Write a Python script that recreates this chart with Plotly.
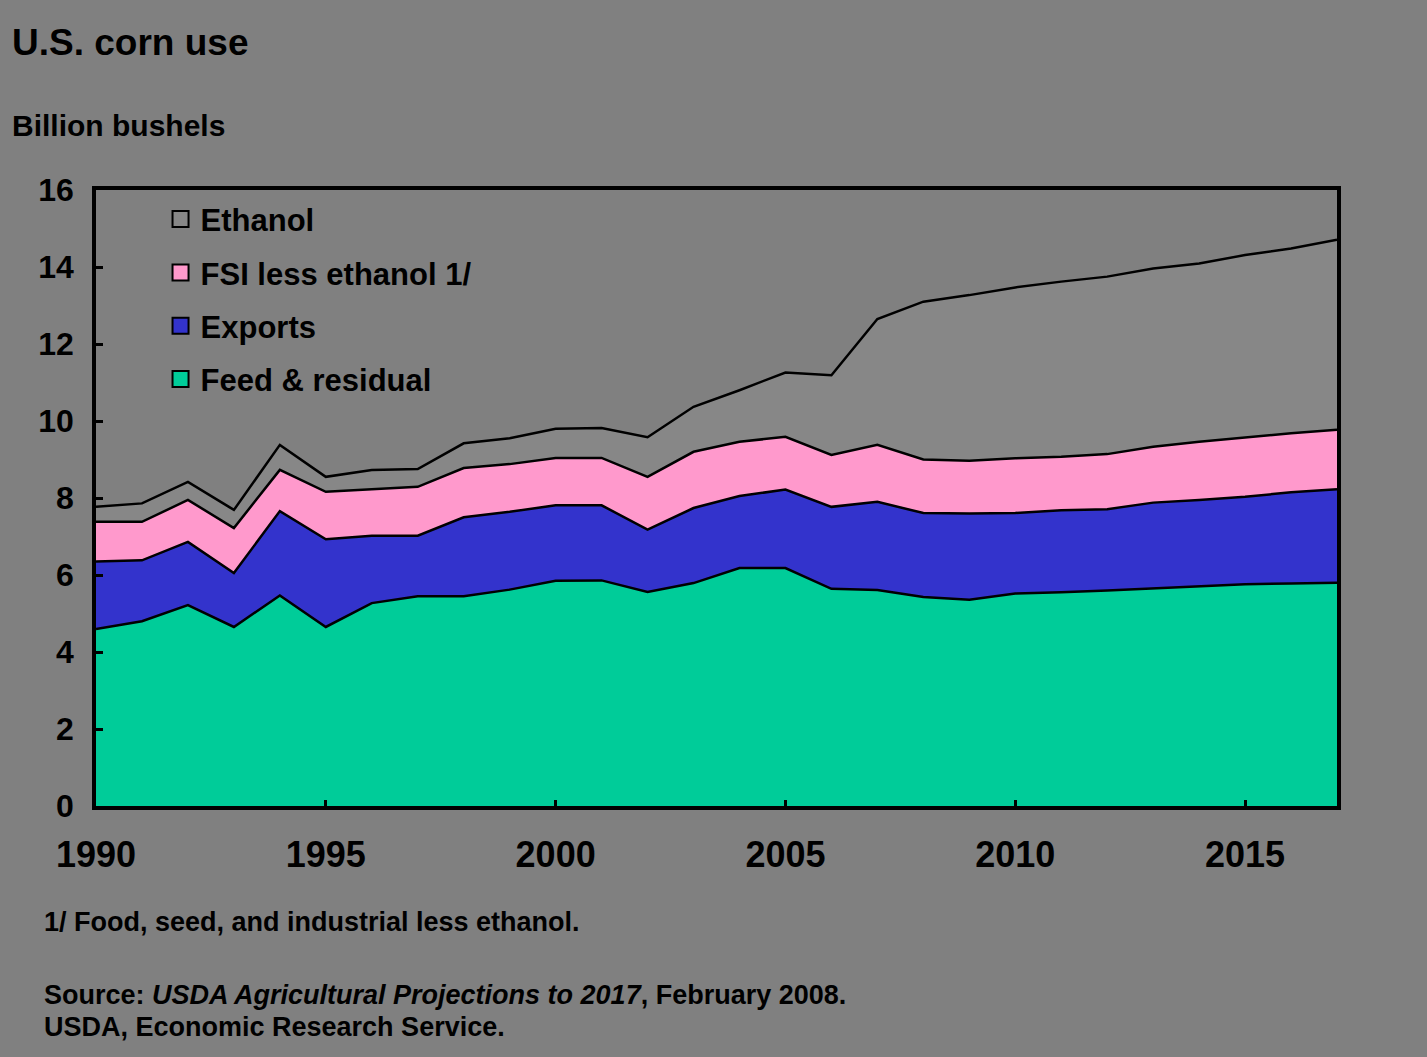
import plotly.graph_objects as go

years = list(range(1990, 2018))

feed_residual = [4.60, 4.80, 5.22, 4.65, 5.47, 4.65, 5.27, 5.45, 5.45, 5.62,
                 5.85, 5.86, 5.56, 5.79, 6.18, 6.18, 5.64, 5.61, 5.43, 5.36,
                 5.52, 5.55, 5.60, 5.65, 5.70, 5.76, 5.78, 5.80]
exports = [1.75, 1.58, 1.64, 1.40, 2.19, 2.28, 1.75, 1.57, 2.05, 2.02,
           1.96, 1.95, 1.62, 1.95, 1.87, 2.04, 2.13, 2.29, 2.18, 2.24,
           2.09, 2.13, 2.11, 2.23, 2.25, 2.27, 2.37, 2.43]
fsi_less_ethanol = [1.03, 1.00, 1.09, 1.17, 1.07, 1.23, 1.21, 1.27, 1.28, 1.24,
                    1.23, 1.23, 1.37, 1.46, 1.41, 1.37, 1.35, 1.48, 1.39, 1.37,
                    1.42, 1.39, 1.43, 1.45, 1.51, 1.54, 1.53, 1.54]
ethanol = [0.39, 0.48, 0.47, 0.47, 0.65, 0.39, 0.50, 0.46, 0.64, 0.67,
           0.76, 0.78, 1.03, 1.17, 1.34, 1.67, 2.07, 3.27, 4.10, 4.30,
           4.44, 4.55, 4.61, 4.63, 4.63, 4.74, 4.80, 4.94]

series_names = ["Feed & residual", "Exports", "FSI less ethanol 1/", "Ethanol"]
series_values = [feed_residual, exports, fsi_less_ethanol, ethanol]
series_colors = ["#00CC99", "#3333CC", "#FF99CC", "#878787"]

y_ticks = [0, 2, 4, 6, 8, 10, 12, 14, 16]
x_ticks = [1990, 1995, 2000, 2005, 2010, 2015]

FONT = "Liberation Sans, Arial, sans-serif"
BG = "#808080"

fig = go.Figure()

for name, vals, col in zip(series_names, series_values, series_colors):
    fig.add_trace(go.Scatter(
        x=years, y=vals, name=name, mode="lines",
        stackgroup="one", fillcolor=col,
        line=dict(color="black", width=2.5),
        showlegend=False, hoverinfo="x+y+name",
    ))

# legend entries (square swatches with black border), top series listed first
legend_items = list(zip(series_names, series_colors))[::-1]
for i, (name, col) in enumerate(legend_items):
    fig.add_trace(go.Scatter(
        x=[None], y=[None], name=name, mode="markers",
        marker=dict(symbol="square", size=16, color=col,
                    line=dict(color="black", width=2)),
        legendgroup=f"g{i}", showlegend=True,
    ))

fig.update_layout(
    width=1427, height=1057,
    paper_bgcolor=BG, plot_bgcolor=BG,
    margin=dict(l=96, r=90, t=190, b=251),
    font=dict(family=FONT, color="black", size=30, weight="bold"),
    showlegend=True,
    legend=dict(
        x=0.052, y=0.996, xanchor="left", yanchor="top",
        bgcolor="rgba(0,0,0,0)", borderwidth=0,
        traceorder="grouped", tracegroupgap=10,
        font=dict(family=FONT, size=31, color="black", weight="bold"),
        itemsizing="trace",
    ),
    xaxis=dict(
        range=[1990, 2017], tickvals=x_ticks, ticktext=[str(v) for v in x_ticks],
        showgrid=False, zeroline=False,
        showline=True, linecolor="black", linewidth=3.5, mirror=True,
        ticks="inside", ticklen=6, tickwidth=2.5, tickcolor="black",
        tickfont=dict(family=FONT, size=36, color="black", weight="bold"),
        ticklabelstandoff=14,
    ),
    yaxis=dict(
        range=[0, 16], tickvals=y_ticks, ticktext=[str(v) for v in y_ticks],
        showgrid=False, zeroline=False,
        showline=True, linecolor="black", linewidth=3.5, mirror=True,
        ticks="inside", ticklen=7, tickwidth=3, tickcolor="black",
        tickfont=dict(family=FONT, size=32, color="black", weight="bold"),
        ticklabelstandoff=12,
    ),
    annotations=[
        dict(text="U.S. corn use", xref="paper", yref="paper",
             x=-0.0693, y=1.240, xanchor="left", yanchor="middle",
             showarrow=False, font=dict(family=FONT, size=37, color="black", weight="bold")),
        dict(text="Billion bushels", xref="paper", yref="paper",
             x=-0.0693, y=1.1055, xanchor="left", yanchor="middle",
             showarrow=False, font=dict(family=FONT, size=30, color="black", weight="bold")),
        dict(text="1/ Food, seed, and industrial less ethanol.", xref="paper", yref="paper",
             x=-0.0435, y=-0.188, xanchor="left", yanchor="middle",
             showarrow=False, font=dict(family=FONT, size=27, color="black", weight="bold")),
        dict(text="Source: <i>USDA Agricultural Projections to 2017</i>, February 2008.",
             xref="paper", yref="paper",
             x=-0.0435, y=-0.307, xanchor="left", yanchor="middle",
             showarrow=False, font=dict(family=FONT, size=27, color="black", weight="bold")),
        dict(text="USDA, Economic Research Service.", xref="paper", yref="paper",
             x=-0.0435, y=-0.359, xanchor="left", yanchor="middle",
             showarrow=False, font=dict(family=FONT, size=27, color="black", weight="bold")),
    ],
)

fig.write_html(
    "out.html",
    config={"displayModeBar": False},
    post_script="document.body.style.margin='0';document.body.style.background='#808080';",
)
